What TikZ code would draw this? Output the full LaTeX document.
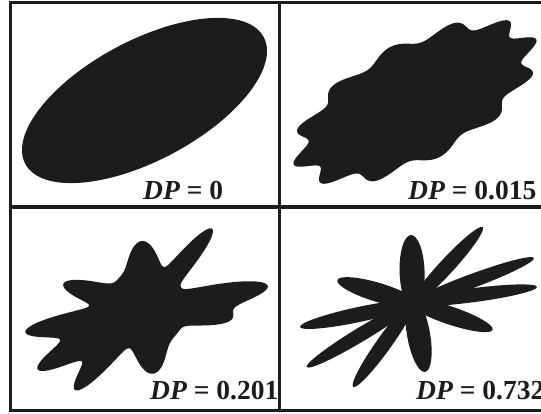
\documentclass[tikz,border=0pt]{standalone}
\usepackage{fontspec}
\setmainfont{Liberation Serif}
\definecolor{ink}{RGB}{30,27,27}
\begin{document}
\begin{tikzpicture}[x=1pt, y=1pt,
  declare function={
    gb(\ang,\cen,\sig)=exp(-min(9,((mod(\ang-\cen+540,360)-180)/\sig)*((mod(\ang-\cen+540,360)-180)/\sig)/2));
    rthree(\ang)=40+27*gb(\ang,93.4,13)+63*gb(\ang,50.1,6)+79*gb(\ang,10.8,6)+46*gb(\ang,-6.6,8)+26*gb(\ang,-84,13)+68*gb(\ang,-130.9,6.5)+83*gb(\ang,-150.5,6)+82*gb(\ang,-168.8,6)+46*gb(\ang,163.9,8);
  },
  shapefill/.style={fill=ink},
  frameline/.style={draw=ink, line width=3pt},
  divline/.style={draw=ink, line width=3.6pt},
  lbl/.style={anchor=base west, inner sep=0pt, text=ink, font=\fontsize{27.5}{31}\selectfont\bfseries}
]
\useasboundingbox (0,0) rectangle (541,414);
\clip (0,0) rectangle (541,414);
\fill[white] (0,0) rectangle (541,414);
% frame and dividers
\coordinate (fl) at (10,3.5);
\coordinate (fr) at (560,411.8);
\path[frameline] (fl) rectangle (fr);
\coordinate (vt) at (279.6,411.8);
\coordinate (vb) at (279.6,3.5);
\coordinate (hl) at (10,206.8);
\coordinate (hr) at (560,206.8);
\path[divline] (vb) -- (vt);
\path[divline] (hl) -- (hr);
% panel 1: ellipse
\fill[shapefill, rotate around={28:(144.5,313.5)}] (144.5,313.5) ellipse [x radius=135pt, y radius=60pt];
% panel 2: wavy ellipse
\fill[shapefill, shift={(415,312)}, rotate=28] plot[domain=0:360, samples=361]
  ({127*(1+0.075*cos(12*\x+20))*cos(\x)}, {56*(1+0.075*cos(12*\x+20))*sin(\x)}) -- cycle;
% panel 3: lobed star
\fill[shapefill, shift={(146,106)}] plot[domain=0:360, samples=541] (\x:{rthree(\x)}) -- cycle;
% panel 4: petals
\foreach \pa/\pl/\pw in {91.7/68/25, 47.4/103/15, 20.4/129/14, 7.4/125/14, -18.6/84/18, -80/70/23, -125.5/103/15, -148.9/124/14, -168/115.5/15, 163.2/79/19} {
  \fill[shapefill, shift={(413,111)}, rotate=\pa] ({\pl/2-3},0) ellipse [x radius={(\pl/2+3)*1pt}, y radius={(\pw/2)*1pt}];
}
% labels
\node[lbl] (l1) at (143,214) {\textit{DP} = 0};
\node[lbl] (l2) at (408,214) {\textit{DP} = 0.015};
\node[lbl] (l3) at (150,14) {\textit{DP} = 0.201};
\node[lbl] (l4) at (416,14) {\textit{DP} = 0.732};
\end{tikzpicture}
\end{document}
